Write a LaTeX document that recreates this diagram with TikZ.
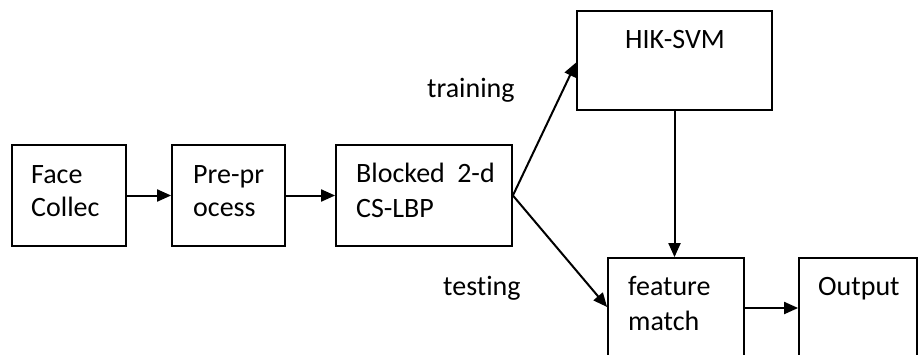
\documentclass[tikz,border=0pt]{standalone}
\usepackage{fontspec}
\setmainfont[Ligatures=CommonOff]{Carlito}
\usetikzlibrary{arrows.meta}
\begin{document}
\begin{tikzpicture}[
x=1pt, y=-1pt,
box/.style={draw, line width=1.8pt, inner sep=0pt},
lbl/.style={anchor=base west, inner sep=0pt, font=\fontsize{28}{34}\selectfont},
flow/.style={line width=2pt, -{Triangle[length=14pt,width=12pt]}}
]
\useasboundingbox (0,0) rectangle (918,354);
\clip (0,0) rectangle (918,354);

% boxes
\node[box, minimum width=114pt, minimum height=101pt] (face) at (69,195.5) {};
\node[box, minimum width=113pt, minimum height=101pt] (pre) at (228.5,195.5) {};
\node[box, minimum width=176pt, minimum height=101pt] (blk) at (424,195.5) {};
\node[box, minimum width=195pt, minimum height=99pt] (hik) at (674.5,60.5) {};
\node[box, minimum width=136pt, minimum height=122pt] (feat) at (676,319) {};
\node[box, minimum width=118pt, minimum height=122pt] (out) at (858,319) {};

% box texts
\node[lbl] (facea) at (31,183) {Face};
\node[lbl] (faceb) at (31,216) {Collec};
\node[lbl] (prea) at (193,183) {Pre-pr};
\node[lbl] (preb) at (193,216) {ocess};
\node[lbl] (blka) at (356,182) {Blocked\hspace{6pt} 2-d};
\node[lbl] (blkb) at (356,217) {CS-LBP};
\node[lbl] (hika) at (625,48) {HIK-SVM};
\node[lbl] (feata) at (628,295) {feature};
\node[lbl] (featb) at (628,330) {match};
\node[lbl] (outa) at (818,295) {Output};

% branch labels
\node[lbl] (train) at (427,97) {training};
\node[lbl] (test) at (443,295) {testing};

% arrows
\draw[flow] (face.east) -- (pre.west);
\draw[flow] (pre.east) -- (blk.west);
\draw[flow] (blk.east) -- ([yshift=-2pt]hik.west);
\draw[flow] (blk.east) -- ([yshift=12pt]feat.west);
\draw[flow] (hik.south) -- (hik.south |- feat.north);
\draw[flow] ([yshift=11pt]feat.east) -- ([yshift=11pt]out.west);

\end{tikzpicture}
\end{document}
